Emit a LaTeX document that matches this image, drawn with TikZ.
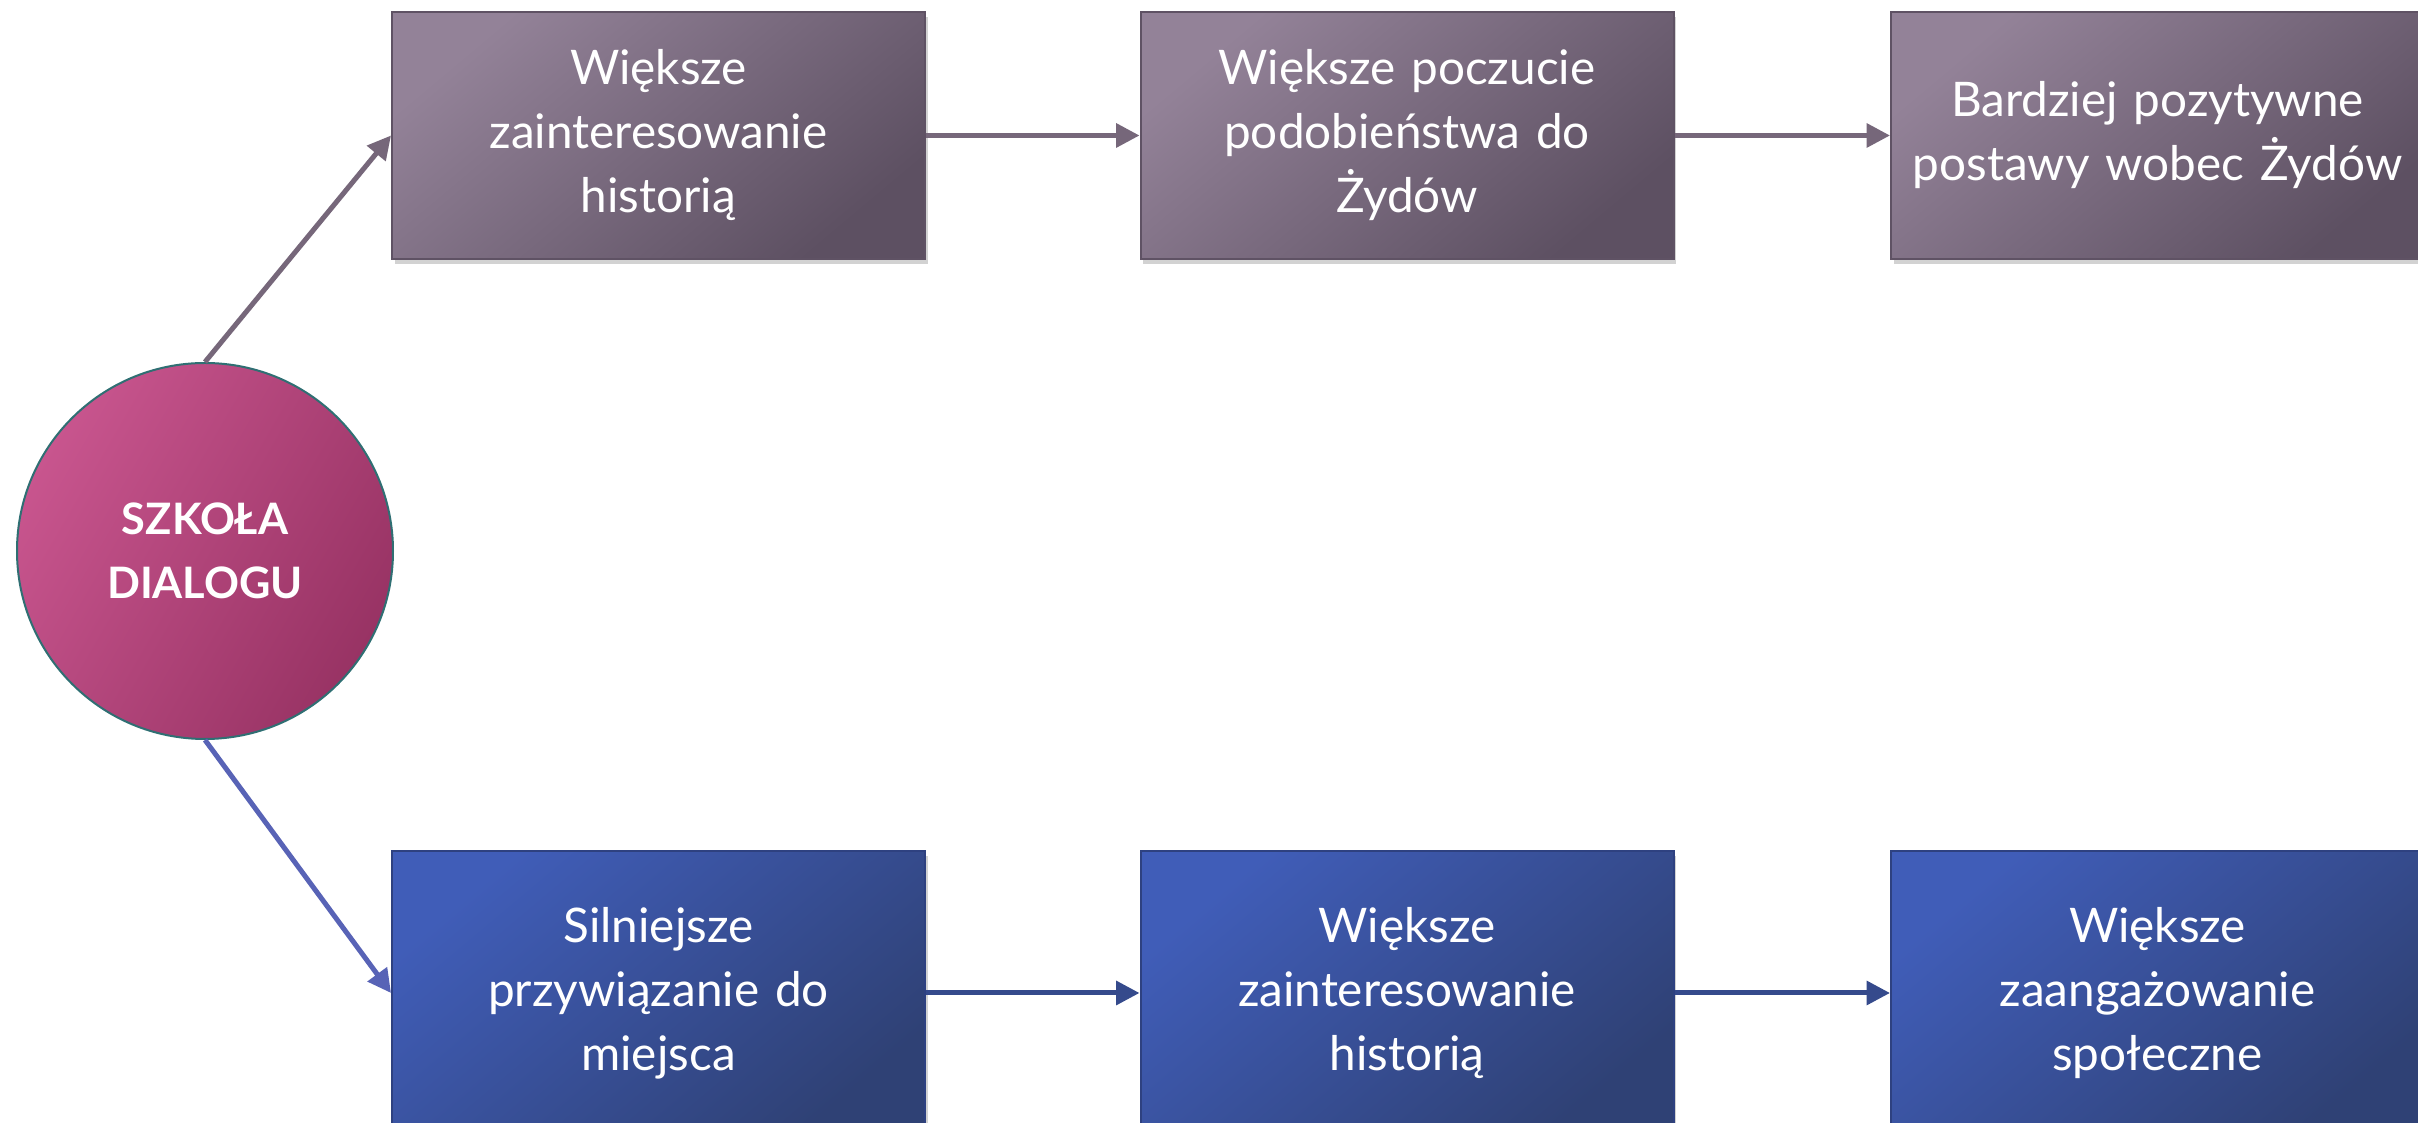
\documentclass[tikz,border=0pt]{standalone}
\usepackage{fontspec}
\setmainfont{Lato}
\usetikzlibrary{arrows.meta,shadows}
\definecolor{plight}{HTML}{938298}
\definecolor{pdark}{HTML}{5D5062}
\definecolor{pborder}{HTML}{5F5264}
\definecolor{parrow}{HTML}{76677A}
\definecolor{blight}{HTML}{405DB8}
\definecolor{bdark}{HTML}{2F4175}
\definecolor{bborder}{HTML}{2E4180}
\definecolor{barrow}{HTML}{354A8C}
\definecolor{bdiag}{HTML}{5863B6}
\definecolor{clight}{HTML}{C8558E}
\definecolor{cdark}{HTML}{983364}
\definecolor{cborder}{HTML}{2F6F73}
\begin{document}
\begin{tikzpicture}[x=0.3pt,y=-0.3pt,
  boxbase/.style={rectangle,minimum width=159.9pt,text width=152pt,inner xsep=1pt,align=center,
    text=white,font=\fontsize{14.3}{19.2}\selectfont,line width=0.6pt,
    drop shadow={opacity=0.35,shadow xshift=0.8pt,shadow yshift=-1.4pt}},
  topbox/.style={boxbase,draw=pborder,top color=plight,bottom color=pdark,shading angle=40,minimum height=74.1pt},
  botbox/.style={boxbase,draw=bborder,top color=blight,bottom color=bdark,shading angle=40,minimum height=85.2pt},
  hub/.style={circle,minimum size=112.8pt,draw=cborder,line width=0.6pt,
    top color=clight,bottom color=cdark,shading angle=60,text=white,align=center,
    font=\bfseries\fontsize{13}{19.4}\selectfont},
  tip/.style={-{Triangle[length=7pt,width=7pt]},line width=1.5pt},
  parr/.style={tip,draw=parrow},
  barr/.style={tip,draw=barrow},
  bdarr/.style={tip,draw=bdiag}]
\useasboundingbox (0,0) rectangle (2418,1123);
\clip (0,0) rectangle (2418,1123);
\fill[white] (0,0) rectangle (2418,1123);
\node[hub] (c) at (205,551) {SZKOŁA\\DIALOGU};
\node[topbox] (a1) at (658.5,135.5) {Większe\\zainteresowanie\\historią};
\node[topbox] (a2) at (1407,135.5) {Większe poczucie\\podobieństwa do\\Żydów};
\node[topbox] (a3) at (2157.5,135.5) {Bardziej pozytywne\\postawy wobec Żydów};
\node[botbox] (b1) at (658.5,993) {Silniejsze\\przywiązanie do\\miejsca};
\node[botbox] (b2) at (1407,993) {Większe\\zainteresowanie\\historią};
\node[botbox] (b3) at (2157.5,993) {Większe\\zaangażowanie\\społeczne};
\draw[parr] (c.north) -- (a1.west);
\draw[bdarr] (c.south) -- (b1.west);
\draw[parr] (a1.east) -- (a2.west);
\draw[parr] (a2.east) -- (a3.west);
\draw[barr] (b1.east) -- (b2.west);
\draw[barr] (b2.east) -- (b3.west);
\end{tikzpicture}
\end{document}
